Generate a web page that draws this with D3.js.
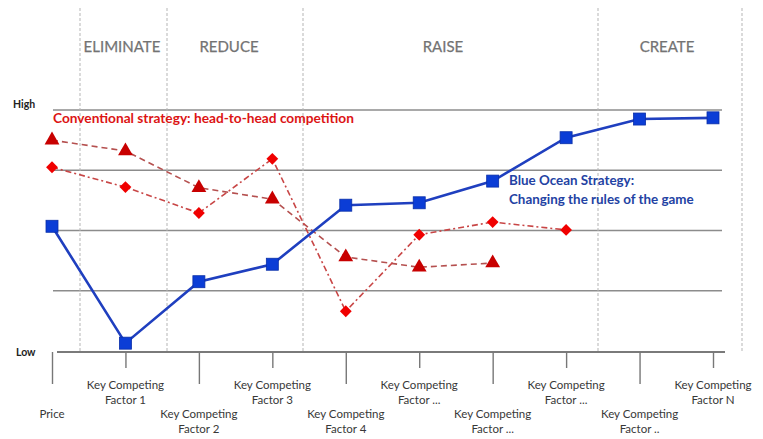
<!DOCTYPE html>
<html>
<head>
<meta charset="utf-8">
<script src="https://cdn.jsdelivr.net/npm/d3@7"></script>
<style>
  html, body { margin: 0; padding: 0; background: #fff; }
  svg { display: block; font-family: Lato, "Open Sans", sans-serif; }
</style>
</head>
<body>
<svg id="chart" width="763" height="439"></svg>
<script>
// Competing factors along the horizontal axis (two-line labels)
const factorLine1 = ["Price", "Key Competing", "Key Competing", "Key Competing", "Key Competing",
                     "Key Competing", "Key Competing", "Key Competing", "Key Competing", "Key Competing"];
const factorLine2 = ["", "Factor 1", "Factor 2", "Factor 3", "Factor 4",
                     "Factor ...", "Factor ...", "Factor ...", "Factor ..", "Factor N"];

// Offering level per factor (0 = Low, 4 = High)
const blueOcean     = [2.07, 0.13, 1.15, 1.44, 2.42, 2.46, 2.82, 3.54, 3.85, 3.87];
const conventionalA = [3.50, 3.32, 2.71, 2.52, 1.56, 1.39, 1.46];          // triangles
const conventionalB = [3.05, 2.72, 2.29, 3.19, 0.66, 1.93, 2.14, 2.01];    // diamonds

// Four actions framework section titles
const actionNames = ["ELIMINATE", "REDUCE", "RAISE", "CREATE"];
const levelLabels = ["Low", "High"];

const svg = d3.select("#chart");

const idx = d3.range(factorLine1.length);
const x = d3.scalePoint().domain(idx).range([52, 713]);
const y = d3.scaleLinear().domain([0, 4]).range([351, 110]);

// Level gridlines
svg.append("g").selectAll("line")
  .data([1, 2, 3, 4])
  .join("line")
  .attr("x1", 53).attr("x2", 722)
  .attr("y1", d => y(d)).attr("y2", d => y(d))
  .attr("stroke", "#8c8c8c").attr("stroke-width", 1.4);

// Section dividers
const dividerXs = [80, 167, 303, 598, 742];
svg.append("g").selectAll("line")
  .data(dividerXs)
  .join("line")
  .attr("x1", d => d).attr("x2", d => d)
  .attr("y1", 8).attr("y2", 351)
  .attr("stroke", "#b5b5b5").attr("stroke-width", 1)
  .attr("stroke-dasharray", "3,2");

// Section titles
const actionCenters = [122, 229, 443, 667];
svg.append("g").selectAll("text")
  .data(actionNames)
  .join("text")
  .attr("x", (d, i) => actionCenters[i])
  .attr("y", 52)
  .attr("text-anchor", "middle")
  .attr("fill", "#737373")
  .attr("font-size", 15)
  .attr("stroke", "#737373").attr("stroke-width", 0.25)
  .text(d => d);

// High / Low labels
svg.append("text").attr("x", 13).attr("y", 108)
  .attr("font-size", 10.5).attr("font-weight", "bold").attr("fill", "#222")
  .text(levelLabels[1]);
svg.append("text").attr("x", 16).attr("y", 356)
  .attr("font-size", 10.5).attr("font-weight", "bold").attr("fill", "#222")
  .text(levelLabels[0]);

// Baseline
svg.append("line")
  .attr("x1", 57).attr("x2", 725)
  .attr("y1", 352).attr("y2", 352)
  .attr("stroke", "#7a7a7a").attr("stroke-width", 2);

// Axis ticks, alternating lengths
const axis = d3.axisBottom(x).tickSize(16).tickFormat("").tickSizeOuter(0);
const gAxis = svg.append("g").attr("transform", "translate(0,352)").call(axis);
gAxis.select(".domain").remove();
gAxis.selectAll(".tick line")
  .attr("stroke", "#777").attr("stroke-width", 1.4)
  .attr("y2", d => (d % 2 === 0 ? 32 : 16));

// Axis labels
const labels = svg.append("g")
  .attr("font-size", 11.5).attr("fill", "#383838").attr("text-anchor", "middle");
idx.forEach(i => {
  const lower = i % 2 === 0;
  const base = lower ? 418 : 389;
  const t = labels.append("text").attr("x", x(i)).attr("y", base);
  if (factorLine2[i] === "") {
    t.text(factorLine1[i]);
  } else {
    t.append("tspan").attr("x", x(i)).attr("y", base).text(factorLine1[i]);
    t.append("tspan").attr("x", x(i)).attr("y", base + 15).text(factorLine2[i]);
  }
});

// Conventional strategy lines
const line = d3.line().x((d, i) => x(i)).y(d => y(d));

svg.append("path")
  .datum(conventionalA)
  .attr("d", line)
  .attr("fill", "none")
  .attr("stroke", "#b5504f").attr("stroke-width", 1.6)
  .attr("stroke-dasharray", "6,4");

svg.append("path")
  .datum(conventionalB)
  .attr("d", line)
  .attr("fill", "none")
  .attr("stroke", "#c84646").attr("stroke-width", 1.6)
  .attr("stroke-dasharray", "6,3,2,3");

// Blue ocean line
svg.append("path")
  .datum(blueOcean)
  .attr("d", line)
  .attr("fill", "none")
  .attr("stroke", "#1f3fbf").attr("stroke-width", 2.6);

// Markers
const tri = d3.symbol().type(d3.symbolTriangle).size(95);
svg.append("g").selectAll("path")
  .data(conventionalA)
  .join("path")
  .attr("d", tri)
  .attr("transform", (d, i) => `translate(${x(i)},${y(d)})`)
  .attr("fill", "#c80000");

const dia = d3.symbol().type(d3.symbolSquare).size(70);
svg.append("g").selectAll("path")
  .data(conventionalB)
  .join("path")
  .attr("d", dia)
  .attr("transform", (d, i) => `translate(${x(i)},${y(d)}) rotate(45)`)
  .attr("fill", "#f00000");

svg.append("g").selectAll("rect")
  .data(blueOcean)
  .join("rect")
  .attr("x", (d, i) => x(i) - 6).attr("y", d => y(d) - 6)
  .attr("width", 12).attr("height", 12)
  .attr("fill", "#0b3dd6").attr("stroke", "#0a2fa8").attr("stroke-width", 0.8);

// Series captions
svg.append("text")
  .attr("x", 53).attr("y", 123)
  .attr("font-size", 13.7).attr("font-weight", "bold").attr("fill", "#dc1414")
  .text("Conventional strategy: head-to-head competition");

const blueCap = svg.append("text")
  .attr("font-size", 13.4).attr("font-weight", "bold").attr("fill", "#2342a3");
blueCap.append("tspan").attr("x", 509).attr("y", 185).text("Blue Ocean Strategy:");
blueCap.append("tspan").attr("x", 509).attr("y", 204).text("Changing the rules of the game");
</script>
</body>
</html>
